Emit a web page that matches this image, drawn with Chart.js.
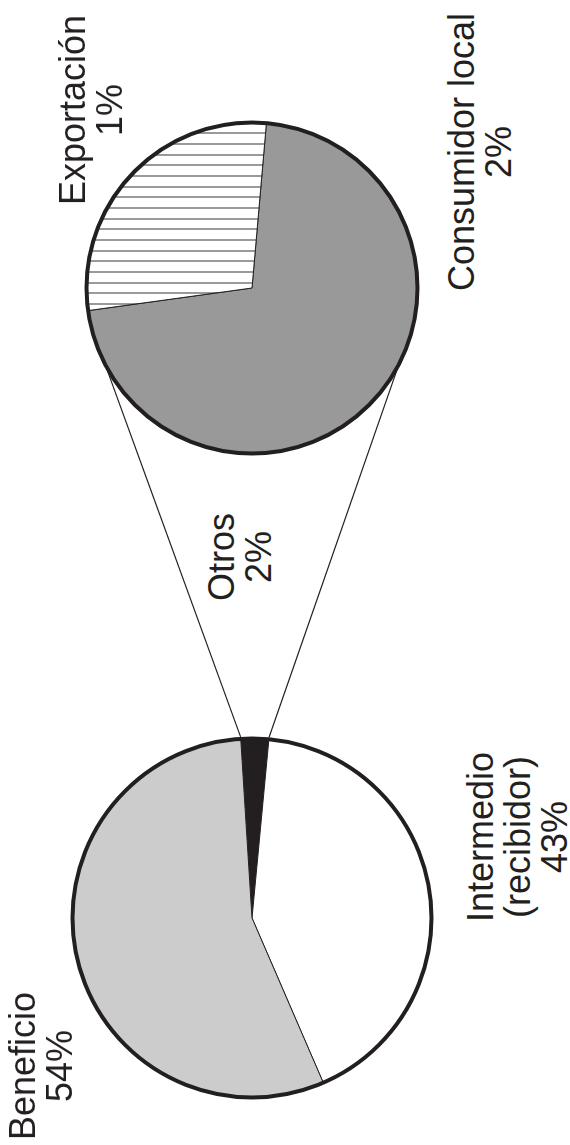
<!DOCTYPE html>
<html lang="es">
<head>
    <meta charset="UTF-8">
    <meta name="viewport" content="width=device-width, initial-scale=1.0">
    <script src="https://cdn.jsdelivr.net/npm/chart.js"></script>
    <title>Destino de la producción</title>
    <style>
        body {
            margin: 0;
            width: 570px;
            height: 1145px;
            background: #ffffff;
            position: relative;
            overflow: hidden;
            font-family: "Liberation Sans", Arial, sans-serif;
        }
        #lineas {
            position: absolute;
            left: 0;
            top: 0;
            z-index: 0;
        }
        .pastel {
            position: absolute;
            z-index: 1;
        }
        .etiqueta {
            position: absolute;
            z-index: 2;
            color: #231f20;
            font-size: 36px;
            line-height: 37px;
            text-align: center;
            white-space: nowrap;
            transform: translate(-50%, -50%) rotate(-90deg);
        }
    </style>
</head>
<body>

    <svg id="lineas" width="570" height="1145"></svg>

    <!-- pastel de detalle (Otros) -->
    <div class="pastel" style="left:72px; top:108px;">
        <canvas id="graficoDetalle" width="360" height="360"></canvas>
    </div>

    <!-- pastel principal -->
    <div class="pastel" style="left:62px; top:728px;">
        <canvas id="graficoPrincipal" width="380" height="380"></canvas>
    </div>

<script>
    // datos
    var categoriasPrincipal = ["Otros", "Intermedio\n(recibidor)", "Beneficio"]
    var valoresPrincipal = [2.5, 42, 55.5]
    var porcentajesPrincipal = ["2%", "43%", "54%"]

    var categoriasDetalle = ["Consumidor local", "Exportación"]
    var valoresDetalle = [1.5, 0.6]
    var porcentajesDetalle = ["2%", "1%"]

    var tinta = "#231f20"

    // rayado horizontal para Exportación
    function crearRayado() {
        var c = document.createElement("canvas")
        c.width = 8
        c.height = 32
        var ctx = c.getContext("2d")
        ctx.fillStyle = "#ffffff"
        ctx.fillRect(0, 0, 8, 32)
        ctx.fillStyle = "#9a9a9a"
        ctx.fillRect(0, 3, 8, 2)
        ctx.fillRect(0, 14, 8, 2)
        ctx.fillRect(0, 24, 8, 2)
        return c.getContext("2d").createPattern(c, "repeat")
    }

    // borde grueso exterior del pastel
    var aro = {
        id: "aro",
        afterDatasetsDraw(chart) {
            var arco = chart.getDatasetMeta(0).data[0]
            var ctx = chart.ctx
            ctx.save()
            ctx.beginPath()
            ctx.arc(arco.x, arco.y, arco.outerRadius, 0, Math.PI * 2)
            ctx.lineWidth = 4
            ctx.strokeStyle = tinta
            ctx.stroke()
            ctx.restore()
        }
    }

    function opciones(rotacion, radio) {
        return {
            responsive: false,
            animation: false,
            rotation: rotacion,
            radius: radio,
            layout: { padding: 0 },
            plugins: {
                legend: { display: false },
                tooltip: { enabled: false }
            }
        }
    }

    var graficoPrincipal = new Chart(document.getElementById("graficoPrincipal"), {
        type: "pie",
        data: {
            labels: categoriasPrincipal,
            datasets: [{
                data: valoresPrincipal,
                backgroundColor: [tinta, "#ffffff", "#cccccc"],
                borderColor: tinta,
                borderWidth: 1
            }]
        },
        options: opciones(-3.6, 179.5),
        plugins: [aro]
    })

    var graficoDetalle = new Chart(document.getElementById("graficoDetalle"), {
        type: "pie",
        data: {
            labels: categoriasDetalle,
            datasets: [{
                data: valoresDetalle,
                backgroundColor: ["#999999", crearRayado()],
                borderColor: tinta,
                borderWidth: 1
            }]
        },
        options: opciones(5, 165.5),
        plugins: [aro]
    })

    // lineas que unen "Otros" con el pastel de detalle
    function dibujarLineas() {
        var svg = document.getElementById("lineas")
        var otros = graficoPrincipal.getDatasetMeta(0).data[0]
        var baseP = graficoPrincipal.canvas.getBoundingClientRect()
        var det = graficoDetalle.getDatasetMeta(0).data[0]
        var baseD = graficoDetalle.canvas.getBoundingClientRect()

        var r1 = otros.outerRadius + 2
        var r2 = det.outerRadius
        var angulosArriba = [242.7, 117.3]
        var angulosAbajo = [otros.startAngle, otros.endAngle]

        for (var i = 0; i < 2; i++) {
            var a = angulosAbajo[i]
            var b = (angulosArriba[i] - 90) * Math.PI / 180
            var linea = document.createElementNS("http://www.w3.org/2000/svg", "line")
            linea.setAttribute("x1", baseP.left + otros.x + r1 * Math.cos(a))
            linea.setAttribute("y1", baseP.top + otros.y + r1 * Math.sin(a))
            linea.setAttribute("x2", baseD.left + det.x + r2 * Math.cos(b))
            linea.setAttribute("y2", baseD.top + det.y + r2 * Math.sin(b))
            linea.setAttribute("stroke", tinta)
            linea.setAttribute("stroke-width", "1.2")
            svg.appendChild(linea)
        }
    }

    // etiquetas giradas
    var posicionesPrincipal = [[240, 557], [517, 837], [41, 1066]]
    var posicionesDetalle = [[480, 152], [91, 110]]

    function ponerEtiqueta(texto, pos) {
        var div = document.createElement("div")
        div.className = "etiqueta"
        div.style.left = pos[0] + "px"
        div.style.top = pos[1] + "px"
        div.innerHTML = texto.split("\n").join("<br>")
        document.body.appendChild(div)
    }

    dibujarLineas()

    for (var i = 0; i < categoriasPrincipal.length; i++) {
        ponerEtiqueta(categoriasPrincipal[i] + "\n" + porcentajesPrincipal[i], posicionesPrincipal[i])
    }
    for (var i = 0; i < categoriasDetalle.length; i++) {
        ponerEtiqueta(categoriasDetalle[i] + "\n" + porcentajesDetalle[i], posicionesDetalle[i])
    }
</script>
</body>
</html>
